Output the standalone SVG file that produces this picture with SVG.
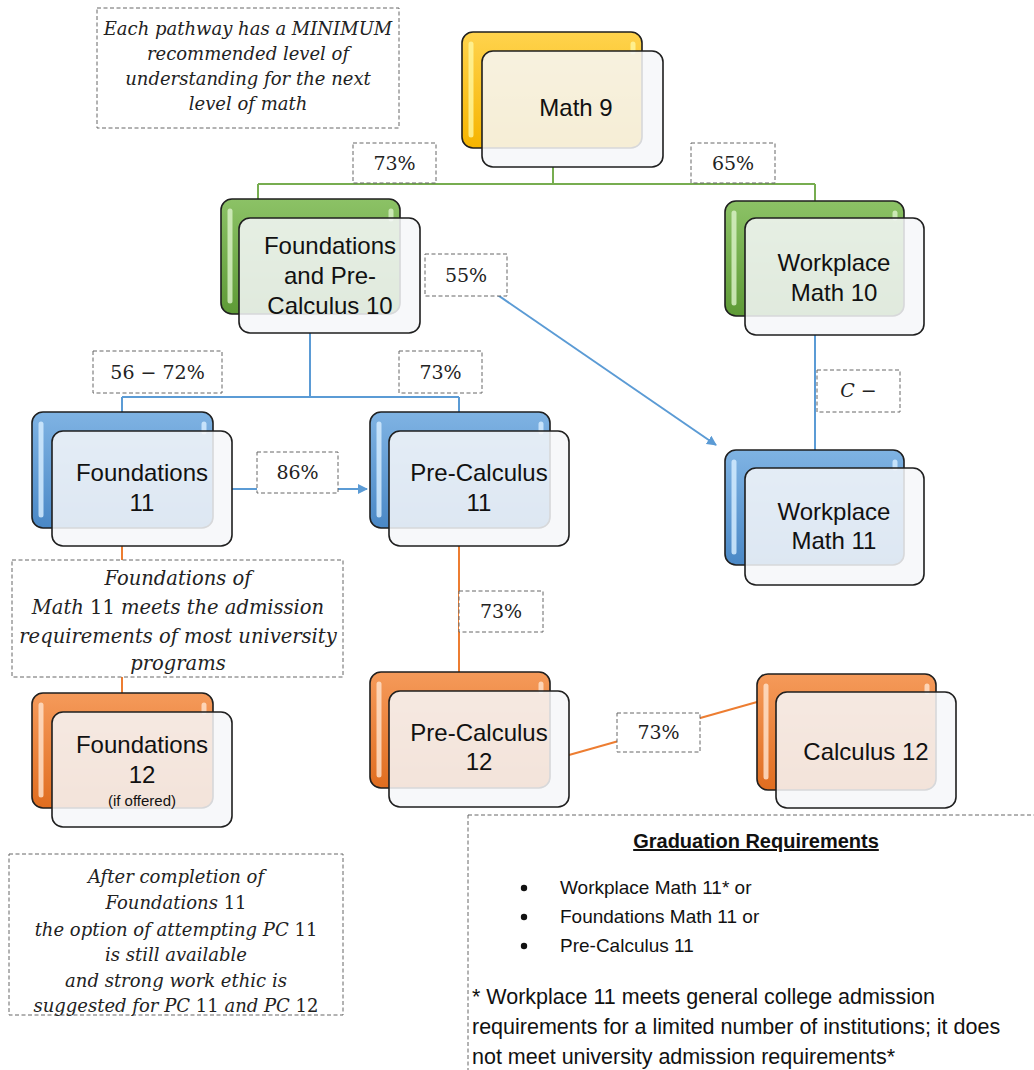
<svg xmlns="http://www.w3.org/2000/svg" width="1034" height="1070" viewBox="0 0 1034 1070">
<defs>
<style>
.back{stroke:#1f1f1f;stroke-width:1.6}
.front{fill:#f6f7f9;fill-opacity:0.86;stroke:#1f1f1f;stroke-width:1.6}
.nt{font-family:"Liberation Sans",Arial,sans-serif;font-size:24px;fill:#111;text-anchor:middle}
.lbl{fill:#fff;stroke:#666;stroke-width:1;stroke-dasharray:4 2.5}
.lt{font-family:"DejaVu Serif","Liberation Serif",serif;font-size:19px;fill:#222;text-anchor:middle}
.note{font-family:"DejaVu Serif","Liberation Serif",serif;font-style:italic;font-size:18px;fill:#222;text-anchor:middle}
.up{font-style:normal}
.gt{font-family:"Liberation Sans",Arial,sans-serif;font-size:19px;fill:#111}
.fn{font-size:21.5px}
.hl{stroke-width:5;stroke-linecap:round;opacity:0.85}
.cg{stroke:#77ad50;stroke-width:2;fill:none}
.cb{stroke:#5b9bd5;stroke-width:2;fill:none}
.co{stroke:#ed7d31;stroke-width:2;fill:none}
</style>
<linearGradient id="gy" x1="0" y1="0" x2="0" y2="1"><stop offset="0" stop-color="#ffd34d"/><stop offset="1" stop-color="#f5b400"/></linearGradient>
<linearGradient id="gg" x1="0" y1="0" x2="0" y2="1"><stop offset="0" stop-color="#8cc266"/><stop offset="1" stop-color="#5e9a36"/></linearGradient>
<linearGradient id="gb" x1="0" y1="0" x2="0" y2="1"><stop offset="0" stop-color="#7fb3e3"/><stop offset="1" stop-color="#4a88c6"/></linearGradient>
<linearGradient id="go" x1="0" y1="0" x2="0" y2="1"><stop offset="0" stop-color="#f59a5a"/><stop offset="1" stop-color="#e06d20"/></linearGradient>
<marker id="ab" viewBox="0 0 10 10" refX="9" refY="5" markerWidth="5" markerHeight="5" orient="auto"><path d="M0,0 L10,5 L0,10 z" fill="#5b9bd5"/></marker>
<clipPath id="clipnote"><rect x="12" y="560" width="331" height="117"/></clipPath>
</defs>
<rect width="1034" height="1070" fill="#ffffff"/>

<g id="connectors">
<path class="cg" d="M553,167 V184 M258,184 H815 M258,184 V200 M815,184 V202"/>
<path class="cb" d="M310,333 V397 M122,397 H459 M122,397 V412 M459,397 V412"/>
<path class="cb" d="M815,335 V450"/>
<path class="cb" d="M470,276 L716,445" marker-end="url(#ab)"/>
<path class="cb" d="M232,489 H367" marker-end="url(#ab)"/>
<path class="co" d="M122,546 V693"/>
<path class="co" d="M459,546 V672"/>
<path class="co" d="M569,755 L757,702"/>
</g>

<g id="note-top">
<rect class="lbl" x="97" y="8" width="302" height="120"/>
<text class="note" x="248" y="35">Each pathway has a MINIMUM</text>
<text class="note" x="248" y="60">recommended level of</text>
<text class="note" x="248" y="85">understanding for the next</text>
<text class="note" x="248" y="110">level of math</text>
</g>

<g id="math9">
<rect class="back" x="462" y="32" width="180" height="116" rx="11" fill="url(#gy)"/>
<line class="hl" x1="471" y1="44" x2="471" y2="135" stroke="#fff59a"/>
<line class="hl" x1="633" y1="44" x2="633" y2="52" stroke="#fff59a"/>
<rect class="front" x="482" y="51" width="181" height="116" rx="11"/>
<text class="nt" x="576" y="116">Math 9</text>
</g>

<g id="lbl-73a"><rect class="lbl" x="353" y="143" width="83" height="40"/><text class="lt" x="394.5" y="170">73%</text></g>
<g id="lbl-65"><rect class="lbl" x="691" y="143" width="84" height="40"/><text class="lt" x="733" y="170">65%</text></g>

<g id="fpc10">
<rect class="back" x="221" y="199" width="179" height="115" rx="11" fill="url(#gg)"/>
<line class="hl" x1="230" y1="211" x2="230" y2="301" stroke="#d8f0c4"/>
<line class="hl" x1="391" y1="211" x2="391" y2="219" stroke="#d8f0c4"/>
<rect class="front" x="239" y="218" width="181" height="115" rx="11"/>
<text class="nt" x="330" y="254">Foundations</text>
<text class="nt" x="330" y="284">and Pre-</text>
<text class="nt" x="330" y="314">Calculus 10</text>
</g>

<g id="wm10">
<rect class="back" x="725" y="201" width="179" height="115" rx="11" fill="url(#gg)"/>
<line class="hl" x1="734" y1="213" x2="734" y2="303" stroke="#d8f0c4"/>
<line class="hl" x1="895" y1="213" x2="895" y2="218" stroke="#d8f0c4"/>
<rect class="front" x="745" y="218" width="179" height="117" rx="11"/>
<text class="nt" x="834" y="271">Workplace</text>
<text class="nt" x="834" y="301">Math 10</text>
</g>

<g id="lbl-55"><rect class="lbl" x="425" y="254" width="82" height="42"/><text class="lt" x="466" y="282">55%</text></g>
<g id="lbl-5672"><rect class="lbl" x="93" y="351" width="129" height="42"/><text class="lt" x="157.5" y="379">56 − 72%</text></g>
<g id="lbl-73b"><rect class="lbl" x="399" y="351" width="83" height="42"/><text class="lt" x="440.5" y="379">73%</text></g>
<g id="lbl-cminus"><rect class="lbl" x="817" y="370" width="83" height="42"/><text class="lt" x="858.5" y="397" font-style="italic">C −</text></g>

<g id="found11">
<rect class="back" x="32" y="412" width="181" height="116" rx="11" fill="url(#gb)"/>
<line class="hl" x1="41" y1="424" x2="41" y2="515" stroke="#d4ecff"/>
<line class="hl" x1="204" y1="424" x2="204" y2="432" stroke="#d4ecff"/>
<rect class="front" x="52" y="431" width="180" height="115" rx="11"/>
<text class="nt" x="142" y="481">Foundations</text>
<text class="nt" x="142" y="511">11</text>
</g>

<g id="pc11">
<rect class="back" x="370" y="412" width="180" height="116" rx="11" fill="url(#gb)"/>
<line class="hl" x1="379" y1="424" x2="379" y2="515" stroke="#d4ecff"/>
<line class="hl" x1="541" y1="424" x2="541" y2="432" stroke="#d4ecff"/>
<rect class="front" x="389" y="431" width="180" height="115" rx="11"/>
<text class="nt" x="479" y="481">Pre-Calculus</text>
<text class="nt" x="479" y="511">11</text>
</g>

<g id="lbl-86"><rect class="lbl" x="257" y="452" width="81" height="41"/><text class="lt" x="297.5" y="479">86%</text></g>

<g id="wm11">
<rect class="back" x="725" y="450" width="179" height="115" rx="11" fill="url(#gb)"/>
<line class="hl" x1="734" y1="462" x2="734" y2="552" stroke="#d4ecff"/>
<line class="hl" x1="895" y1="462" x2="895" y2="468" stroke="#d4ecff"/>
<rect class="front" x="745" y="468" width="179" height="117" rx="11"/>
<text class="nt" x="834" y="520">Workplace</text>
<text class="nt" x="834" y="549">Math 11</text>
</g>

<g id="note-found11">
<rect class="lbl" x="12" y="560" width="331" height="117"/>
<g clip-path="url(#clipnote)" style="font-size:19.5px">
<text class="note" x="178" y="585" style="font-size:19.5px">Foundations of</text>
<text class="note" x="178" y="614" style="font-size:19.5px">Math <tspan class="up">11</tspan> meets the admission</text>
<text class="note" x="178" y="643" style="font-size:19.5px">requirements of most university</text>
<text class="note" x="178" y="670" style="font-size:19.5px">programs</text>
</g>
</g>

<g id="lbl-73c"><rect class="lbl" x="459" y="591" width="84" height="41"/><text class="lt" x="501" y="618">73%</text></g>

<g id="found12">
<rect class="back" x="32" y="693" width="181" height="115" rx="11" fill="url(#go)"/>
<line class="hl" x1="41" y1="705" x2="41" y2="795" stroke="#ffe0c8"/>
<line class="hl" x1="204" y1="705" x2="204" y2="712" stroke="#ffe0c8"/>
<rect class="front" x="52" y="712" width="180" height="115" rx="11"/>
<text class="nt" x="142" y="753">Foundations</text>
<text class="nt" x="142" y="783">12</text>
<text class="nt" x="142" y="806" style="font-size:15px">(if offered)</text>
</g>

<g id="pc12">
<rect class="back" x="370" y="672" width="180" height="116" rx="11" fill="url(#go)"/>
<line class="hl" x1="379" y1="684" x2="379" y2="775" stroke="#ffe0c8"/>
<line class="hl" x1="541" y1="684" x2="541" y2="691" stroke="#ffe0c8"/>
<rect class="front" x="389" y="691" width="180" height="116" rx="11"/>
<text class="nt" x="479" y="741">Pre-Calculus</text>
<text class="nt" x="479" y="770">12</text>
</g>

<g id="lbl-73d"><rect class="lbl" x="617" y="713" width="83" height="39"/><text class="lt" x="658.5" y="739">73%</text></g>

<g id="calc12">
<rect class="back" x="757" y="674" width="179" height="116" rx="11" fill="url(#go)"/>
<line class="hl" x1="766" y1="686" x2="766" y2="777" stroke="#ffe0c8"/>
<line class="hl" x1="927" y1="686" x2="927" y2="692" stroke="#ffe0c8"/>
<rect class="front" x="776" y="692" width="180" height="116" rx="11"/>
<text class="nt" x="866" y="760">Calculus 12</text>
</g>

<g id="grad-req">
<rect class="lbl" x="468" y="815" width="580" height="270"/>
<text class="gt" x="756" y="848" text-anchor="middle" font-weight="bold" text-decoration="underline" style="font-size:20px">Graduation Requirements</text>
<circle cx="524" cy="888" r="3.2" fill="#111"/>
<circle cx="524" cy="917" r="3.2" fill="#111"/>
<circle cx="524" cy="946" r="3.2" fill="#111"/>
<text class="gt" x="560" y="894">Workplace Math 11* or</text>
<text class="gt" x="560" y="923">Foundations Math 11 or</text>
<text class="gt" x="560" y="952">Pre-Calculus 11</text>
<text class="gt fn" x="472" y="1004">* Workplace 11 meets general college admission</text>
<text class="gt fn" x="472" y="1034">requirements for a limited number of institutions; it does</text>
<text class="gt fn" x="472" y="1064">not meet university admission requirements*</text>
</g>

<g id="note-bottom">
<rect class="lbl" x="9" y="854" width="334" height="161"/>
<text class="note" x="176" y="883">After completion of</text>
<text class="note" x="176" y="909">Foundations <tspan class="up">11</tspan></text>
<text class="note" x="176" y="936">the option of attempting PC <tspan class="up">11</tspan></text>
<text class="note" x="176" y="961">is still available</text>
<text class="note" x="176" y="987">and strong work ethic is</text>
<text class="note" x="176" y="1012">suggested for PC <tspan class="up">11</tspan> and PC <tspan class="up">12</tspan></text>
</g>
</svg>
